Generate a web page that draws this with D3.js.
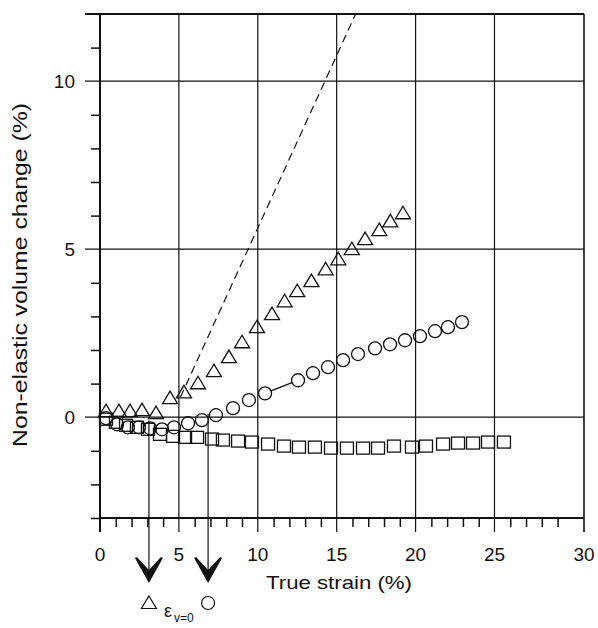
<!DOCTYPE html>
<html>
<head>
<meta charset="utf-8">
<script src="https://cdn.jsdelivr.net/npm/d3@7"></script>
<style>
  html, body { margin: 0; padding: 0; background: #fff; }
  svg { display: block; }
  text { font-family: "Liberation Sans", Arial, Helvetica, sans-serif; fill: #111; }
</style>
</head>
<body>
<svg id="chart" width="598" height="628"></svg>
<script>
// Tick values
const strainTicks = [0, 5, 10, 15, 20, 25, 30];
const changeTicks = [0, 5, 10];

// Triangles
const triStrain = [0.38, 1.2, 1.9, 2.66, 3.55, 4.44, 5.32, 6.21, 7.22, 8.17, 9.0, 9.95, 10.9, 11.7, 12.5, 13.4, 14.3, 15.1, 15.96, 16.8, 17.7, 18.4, 19.2];
const triChange = [0.18, 0.18, 0.18, 0.21, 0.12, 0.57, 0.74, 1.01, 1.37, 1.79, 2.23, 2.68, 3.07, 3.45, 3.75, 4.05, 4.40, 4.70, 5.0, 5.30, 5.57, 5.83, 6.07];

// Circles
const cirStrain = [0.38, 1.08, 1.77, 2.47, 3.17, 3.93, 4.69, 5.58, 6.46, 7.35, 8.43, 9.44, 10.46, 12.55, 13.5, 14.45, 15.4, 16.35, 17.43, 18.38, 19.33, 20.28, 21.23, 22.05, 22.94];
const cirChange = [-0.03, -0.21, -0.3, -0.3, -0.33, -0.36, -0.3, -0.18, -0.09, 0.06, 0.27, 0.51, 0.71, 1.1, 1.31, 1.49, 1.70, 1.88, 2.05, 2.17, 2.29, 2.41, 2.56, 2.68, 2.83, 2.95];

// Squares
const sqStrain = [0.38, 1.01, 1.65, 2.34, 3.04, 3.8, 4.63, 5.39, 6.15, 7.1, 7.79, 8.75, 9.63, 10.65, 11.66, 12.61, 13.62, 14.64, 15.65, 16.67, 17.62, 18.63, 19.77, 20.66, 21.74, 22.69, 23.64, 24.59, 25.6];
const sqChange = [-0.06, -0.15, -0.24, -0.30, -0.36, -0.51, -0.57, -0.60, -0.60, -0.65, -0.68, -0.71, -0.74, -0.80, -0.86, -0.89, -0.89, -0.92, -0.92, -0.92, -0.92, -0.86, -0.89, -0.86, -0.80, -0.77, -0.77, -0.74, -0.74];

// Circle-series gap bridged by a line segment (indices into circle arrays)
const cirBridge = [12, 13];

// Dashed guide line end points
const dashStrain = [5.1, 16.2];
const dashChange = [0.6, 12];

// Strain where the volume change turns positive (arrows)
const zeroStrain = [3.1, 6.85];
const zeroMarker = ["triangle", "circle"];
const zeroStart = [-0.1, 0.1];

const svg = d3.select("#chart");

const x = d3.scaleLinear().domain([0, 29, 30]).range([100, 557.6, 584]);
const y = d3.scaleLinear().domain([-3, 12]).range([518, 14]);

const xMin = x(0), xMax = x(30), yTop = y(12), yBot = y(-3);

// Grid lines
const grid = svg.append("g").attr("stroke", "#111").attr("fill", "none");
strainTicks.forEach(v => {
  const w = (v === 0) ? 2 : (v === 30 ? 1.6 : 1.2);
  grid.append("line")
    .attr("x1", x(v)).attr("x2", x(v))
    .attr("y1", yTop).attr("y2", yBot + 14)
    .attr("stroke-width", w);
});
changeTicks.concat([12]).forEach(v => {
  grid.append("line")
    .attr("x1", xMin - 15).attr("x2", xMax)
    .attr("y1", y(v)).attr("y2", y(v))
    .attr("stroke-width", v === 12 ? 1.8 : 1.2);
});
// x axis baseline
grid.append("line")
  .attr("x1", xMin).attr("x2", xMax)
  .attr("y1", yBot).attr("y2", yBot)
  .attr("stroke-width", 2);

// Minor ticks with d3 axes
const minorX = d3.range(0, 31).filter(v => v % 5 !== 0);
const minorY = d3.range(-3, 12).filter(v => v % 5 !== 0);
const gx = svg.append("g").attr("transform", `translate(0,${yBot})`)
  .call(d3.axisBottom(x).tickValues(minorX).tickSize(9).tickFormat(""));
const gy = svg.append("g").attr("transform", `translate(${xMin},0)`)
  .call(d3.axisLeft(y).tickValues(minorY).tickSize(9).tickFormat(""));
[gx, gy].forEach(g => {
  g.select(".domain").remove();
  g.selectAll(".tick line").attr("stroke", "#111").attr("stroke-width", 1.5);
});

// Tick labels
svg.append("g").selectAll("text").data(strainTicks).join("text")
  .attr("x", d => x(d)).attr("y", 561)
  .attr("text-anchor", "middle").attr("font-size", 19)
  .text(d => d);
svg.append("g").selectAll("text").data(changeTicks).join("text")
  .attr("x", 75).attr("y", d => y(d) + 7)
  .attr("text-anchor", "end").attr("font-size", 19)
  .text(d => d);

// Axis titles
svg.append("text")
  .attr("x", 266).attr("y", 589)
  .attr("font-size", 19)
  .attr("textLength", 146).attr("lengthAdjust", "spacingAndGlyphs")
  .text("True strain (%)");
svg.append("text")
  .attr("transform", "translate(27,447) rotate(-90)")
  .attr("x", 0).attr("y", 0)
  .attr("font-size", 20)
  .attr("textLength", 344).attr("lengthAdjust", "spacingAndGlyphs")
  .text("Non-elastic volume change (%)");

// Dashed guide line
svg.append("line")
  .attr("x1", x(dashStrain[0])).attr("y1", y(dashChange[0]))
  .attr("x2", x(dashStrain[1])).attr("y2", y(dashChange[1]))
  .attr("stroke", "#111").attr("stroke-width", 1.2)
  .attr("stroke-dasharray", "8,5");

// Marker shapes
const triPath = (cx, cy) => {
  const p = d3.path();
  p.moveTo(cx, cy - 7);
  p.lineTo(cx + 7.5, cy + 5.5);
  p.lineTo(cx - 7.5, cy + 5.5);
  p.closePath();
  return p.toString();
};

const marks = svg.append("g").attr("fill", "none").attr("stroke", "#111").attr("stroke-width", 1.3);

marks.selectAll("rect").data(sqStrain).join("rect")
  .attr("x", (d) => x(d) - 6.5)
  .attr("y", (d, i) => y(sqChange[i]) - 6)
  .attr("width", 13).attr("height", 12);

marks.selectAll("circle").data(cirStrain).join("circle")
  .attr("cx", d => x(d))
  .attr("cy", (d, i) => y(cirChange[i]))
  .attr("r", 6.5);

marks.selectAll("path.tri").data(triStrain).join("path")
  .attr("class", "tri")
  .attr("d", (d, i) => triPath(x(d), y(triChange[i])));

// Bridge between two circles
{
  const [a, b] = cirBridge;
  const x1 = x(cirStrain[a]), y1 = y(cirChange[a]);
  const x2 = x(cirStrain[b]), y2 = y(cirChange[b]);
  const len = Math.hypot(x2 - x1, y2 - y1), r = 6.5;
  const ux = (x2 - x1) / len, uy = (y2 - y1) / len;
  marks.append("line")
    .attr("x1", x1 + ux * r).attr("y1", y1 + uy * r)
    .attr("x2", x2 - ux * r).attr("y2", y2 - uy * r);
}

// Arrows marking zero volume change
const tipY = 583;
zeroStrain.forEach((s, i) => {
  const cx = x(s);
  svg.append("line")
    .attr("x1", cx).attr("x2", cx)
    .attr("y1", y(zeroStart[i])).attr("y2", tipY - 12)
    .attr("stroke", "#111").attr("stroke-width", 1.2);
  const p = d3.path();
  p.moveTo(cx, tipY);
  p.lineTo(cx - 14, tipY - 25);
  p.lineTo(cx - 12, tipY - 26);
  p.lineTo(cx, tipY - 13);
  p.lineTo(cx + 12, tipY - 26);
  p.lineTo(cx + 14, tipY - 25);
  p.closePath();
  svg.append("path").attr("d", p.toString()).attr("fill", "#111");

  if (zeroMarker[i] === "triangle") {
    svg.append("path").attr("d", triPath(cx, 603))
      .attr("fill", "none").attr("stroke", "#111").attr("stroke-width", 1.2);
  } else {
    svg.append("circle").attr("cx", cx).attr("cy", 603).attr("r", 6.5)
      .attr("fill", "none").attr("stroke", "#111").attr("stroke-width", 1.2);
  }
});

// Symbol label
const lab = svg.append("text").attr("x", 164).attr("y", 617).attr("font-size", 18);
lab.append("tspan").text("ε");
lab.append("tspan").attr("font-size", 12).attr("dy", 5).attr("dx", 2).text("v=0");
</script>
</body>
</html>
